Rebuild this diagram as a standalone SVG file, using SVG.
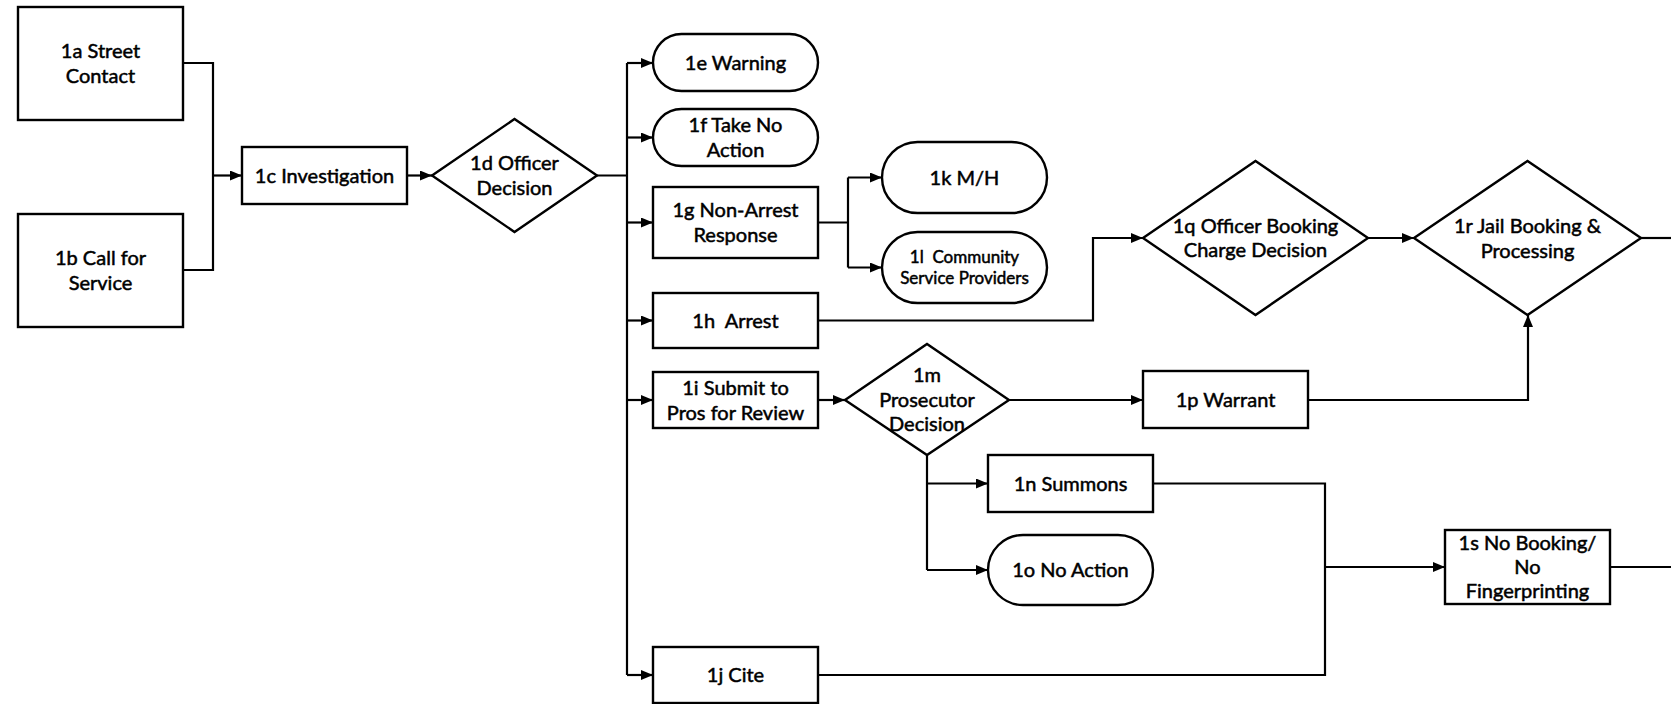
<svg xmlns="http://www.w3.org/2000/svg" width="1671" height="704" viewBox="0 0 1671 704">
<defs>
<marker id="arr" markerUnits="userSpaceOnUse" markerWidth="13" markerHeight="11" refX="12" refY="5" orient="auto">
<path d="M0,0 L12,5 L0,10 z" fill="#000"/>
</marker>
<style>
.n{fill:#fff;stroke:#000;stroke-width:2.4}
.t{font-family:Lato,"Liberation Sans",sans-serif;font-size:20px;fill:#000;stroke:#000;stroke-width:0.5;text-anchor:middle;white-space:pre}
.s{font-size:17px}
.c{fill:none;stroke:#000;stroke-width:2.2}
.a{marker-end:url(#arr)}
</style>
</defs>
<rect width="1671" height="704" fill="#fff"/>
<g id="connectors">
<path class="c" d="M183,63 H213 V270 H183"/>
<path class="c a" d="M213,175.5 H242"/>
<path class="c a" d="M407,175.5 H432"/>
<path class="c" d="M597,175.5 H627 M627,63 V675"/>
<path class="c a" d="M627,63 H653"/>
<path class="c a" d="M627,137.5 H653"/>
<path class="c a" d="M627,222.5 H653"/>
<path class="c a" d="M627,320.5 H653"/>
<path class="c a" d="M627,400 H653"/>
<path class="c a" d="M627,675 H653"/>
<path class="c" d="M818,222.5 H848 M848,177.5 V267.5"/>
<path class="c a" d="M848,177.5 H882"/>
<path class="c a" d="M848,267.5 H882"/>
<path class="c a" d="M818,320.5 H1093 V238 H1143"/>
<path class="c a" d="M1368,238 H1414"/>
<path class="c" d="M1641,238 H1671"/>
<path class="c a" d="M818,400 H845"/>
<path class="c a" d="M1009,400 H1143"/>
<path class="c a" d="M1308,400 H1528 V315"/>
<path class="c" d="M927,455 V570"/>
<path class="c a" d="M927,483.5 H988"/>
<path class="c a" d="M927,570 H988"/>
<path class="c" d="M1153,483.5 H1325 V675 H818"/>
<path class="c a" d="M1325,567 H1445"/>
<path class="c" d="M1610,567 H1671"/>
</g>
<g id="n1a"><rect class="n" x="18" y="7" width="165" height="113"/><text class="t" x="100.5" y="58">1a Street</text><text class="t" x="100.5" y="83">Contact</text></g>
<g id="n1b"><rect class="n" x="18" y="214" width="165" height="113"/><text class="t" x="100.5" y="265">1b Call for</text><text class="t" x="100.5" y="290">Service</text></g>
<g id="n1c"><rect class="n" x="242" y="147" width="165" height="57"/><text class="t" x="324.5" y="182.5">1c Investigation</text></g>
<g id="n1d"><polygon class="n" points="432,175.5 514.5,119 597,175.5 514.5,232"/><text class="t" x="514.5" y="170">1d Officer</text><text class="t" x="514.5" y="195">Decision</text></g>
<g id="n1e"><rect class="n" x="653" y="34" width="165" height="57" rx="28.5"/><text class="t" x="735.5" y="69.5">1e Warning</text></g>
<g id="n1f"><rect class="n" x="653" y="109" width="165" height="57" rx="28.5"/><text class="t" x="735.5" y="132">1f Take No</text><text class="t" x="735.5" y="157">Action</text></g>
<g id="n1g"><rect class="n" x="653" y="187" width="165" height="71"/><text class="t" x="735.5" y="217">1g Non-Arrest</text><text class="t" x="735.5" y="242">Response</text></g>
<g id="n1h"><rect class="n" x="653" y="293" width="165" height="55"/><text class="t" x="735.5" y="327.5">1h  Arrest</text></g>
<g id="n1i"><rect class="n" x="653" y="372" width="165" height="56"/><text class="t" x="735.5" y="395">1i Submit to</text><text class="t" x="735.5" y="419.5">Pros for Review</text></g>
<g id="n1j"><rect class="n" x="653" y="647" width="165" height="56"/><text class="t" x="735.5" y="682">1j Cite</text></g>
<g id="n1k"><rect class="n" x="882" y="142" width="165" height="71" rx="35.5"/><text class="t" x="964.5" y="184.5">1k M/H</text></g>
<g id="n1l"><rect class="n" x="882" y="232" width="165" height="71" rx="35.5"/><text class="t s" x="964.5" y="263">1l  Community</text><text class="t s" x="964.5" y="284">Service Providers</text></g>
<g id="n1m"><polygon class="n" points="845,400 927,344 1009,400 927,455"/><text class="t" x="927" y="382">1m</text><text class="t" x="927" y="407">Prosecutor</text><text class="t" x="927" y="431">Decision</text></g>
<g id="n1n"><rect class="n" x="988" y="455" width="165" height="57"/><text class="t" x="1070.5" y="490.5">1n Summons</text></g>
<g id="n1o"><rect class="n" x="988" y="535" width="165" height="70" rx="35"/><text class="t" x="1070.5" y="577">1o No Action</text></g>
<g id="n1p"><rect class="n" x="1143" y="371" width="165" height="57"/><text class="t" x="1225.5" y="406.5">1p Warrant</text></g>
<g id="n1q"><polygon class="n" points="1143,238 1255.5,161 1368,238 1255.5,315"/><text class="t" x="1255.5" y="233">1q Officer Booking</text><text class="t" x="1255.5" y="257">Charge Decision</text></g>
<g id="n1r"><polygon class="n" points="1414,238 1527.5,161 1641,238 1527.5,315"/><text class="t" x="1527.5" y="233">1r Jail Booking &amp;</text><text class="t" x="1527.5" y="258">Processing</text></g>
<g id="n1s"><rect class="n" x="1445" y="530" width="165" height="74"/><text class="t" x="1527.5" y="550">1s No Booking/</text><text class="t" x="1527.5" y="574">No</text><text class="t" x="1527.5" y="598">Fingerprinting</text></g>
</svg>
